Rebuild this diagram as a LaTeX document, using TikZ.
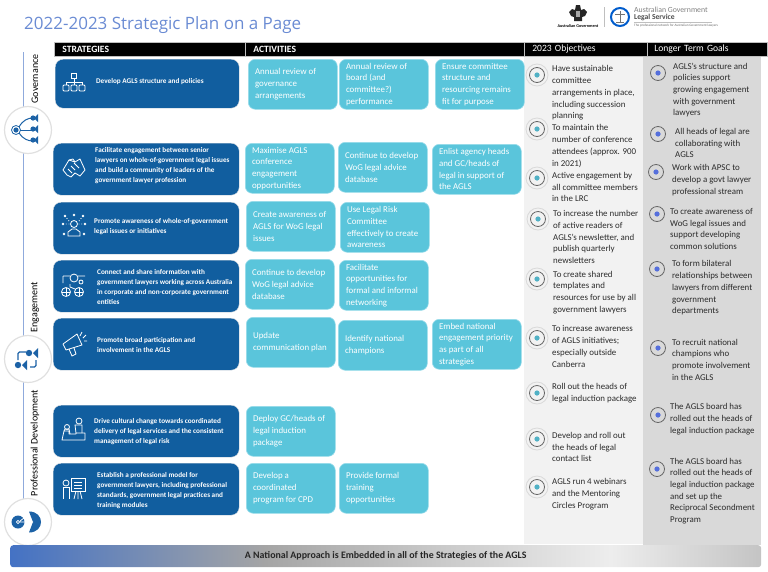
\documentclass[tikz,border=0pt]{standalone}
\usepackage{fontspec}
\setmainfont{Carlito}
\newfontfamily\titlefont{Open Sans}
\definecolor{stratblue}{HTML}{115E9F}
\definecolor{actblue}{HTML}{5AC5DB}
\definecolor{actedge}{HTML}{9ADCEA}
\definecolor{objpanel}{HTML}{F2F2F2}
\definecolor{goalpanel}{HTML}{D9D9D9}
\definecolor{titleblue}{HTML}{6A8BD3}
\definecolor{railblue}{HTML}{8FAADC}
\definecolor{iconblue}{HTML}{1C62A6}
\definecolor{bodygrey}{HTML}{2B2B2B}
\definecolor{barblue}{HTML}{4472C4}
\definecolor{bargrey}{HTML}{A5A5A5}
\definecolor{barlight}{HTML}{EDEDED}
\definecolor{barend}{HTML}{C4C4C4}
\pgfdeclarehorizontalshading{barshade}{100bp}{
	color(0bp)=(barblue); color(25bp)=(barblue); color(42bp)=(bargrey);
	color(65bp)=(barlight); color(75bp)=(barend); color(100bp)=(barend)}
\tikzset{
	headbar/.style={fill=black,draw=black!25,line width=.6pt,anchor=north west,
		minimum height=14pt,inner sep=0pt,text=white,font=\fontsize{9.6}{11}\selectfont},
	stratbox/.style={fill=stratblue,draw=black!10,line width=.4pt,rounded corners=8pt,
		anchor=north west},
	stratlabel/.style={anchor=west,align=left,inner sep=0pt,text=white,
		font=\fontsize{7.2}{10}\selectfont\bfseries},
	actbox/.style={fill=actblue,draw=actedge,line width=.6pt,rounded corners=7pt,
		anchor=north west,minimum width=89pt,minimum height=50pt,text width=75.5pt,
		inner xsep=6.75pt,inner ysep=0pt,align=flush left,text=white,
		font=\fontsize{8.9}{11.7}\selectfont},
	bodytext/.style={anchor=west,align=left,inner sep=0pt,text=bodygrey,
		font=\fontsize{8.9}{11.7}\selectfont},
	railcircle/.style={circle,fill=white,draw=black!12,line width=1.2pt,minimum size=47pt},
	sidelabel/.style={rotate=90,inner sep=0pt,font=\fontsize{10}{12}\selectfont},
	icon/.style={draw=white,line width=.8pt,fill=none}
}
\tikzset{
	bullet/.pic={
		\draw[black!15,line width=.8pt] (0,0) circle (11);
		\draw[black!60,line width=.8pt] (0,0) circle (7.5);
		\fill[#1] (0,0) circle (2.6);
	},
	orgchart/.pic={
		\draw[icon] (-2.5,-11) rectangle (2.5,-6);
		\draw[icon] (0,-6) -- (0,-2) (-8,1) -- (-8,-2) -- (8,-2) -- (8,1) (0,-2) -- (0,1);
		\foreach \x in {-8,0,8}
			\draw[icon,rounded corners=1pt] (\x-3,1) rectangle (\x+3,7);
	},
	handshake/.pic={
		\draw[icon,line join=round] (-11,2) -- (-5,-8) -- (-1,-9) -- (1,-6) -- (6,-9) -- (11,2) -- (6,8)
			-- (1,5) -- (-3,9) -- (-7,7) -- cycle;
		\draw[icon] (-6,1) -- (-2,5) (-3,-2) -- (1,2) (0,-5) -- (5,0) (-5,-8) -- (1,-6);
	},
	netperson/.pic={
		\draw[icon] (0,-3) circle (3.5);
		\draw[icon] (-6,9) -- (-6,5) -- (-2,2) -- (2,2) -- (6,5) -- (6,9) -- cycle;
		\foreach \a/\b in {-9/-11,0/-12,9/-11,-11/-3,11/-3,-10/7,10/7}
		{
			\fill[white] (\a,\b) circle (1.4);
		}
		\draw[icon,dotted] (-9,-11) -- (-5,-6) (9,-11) -- (5,-6) (-11,-3) -- (-4,-3) (11,-3) -- (4,-3);
	},
	linknet/.pic={
		\draw[icon] (0,-7) circle (4) (5,7) circle (4.5) (-8,7) circle (4.5) (7,-3) circle (2);
		\draw[icon] (-11,-9) -- (-4,-9) (11,-9) -- (4,-9) (-11,-9) -- (-11,-2) (-4,-1) -- (-4,2) -- (1,4);
		\draw[icon] (-8,3) -- (-8,11) (-12,7) -- (-4,7) (1,7) -- (9,7) (5,3) -- (5,11);
	},
	megaphone/.pic={
		\draw[icon,line join=round] (-11,1) -- (3,-9) -- (8,2) -- (-8,7) -- cycle;
		\draw[icon] (-5,6) -- (-2,13) -- (2,11) -- (0,5);
		\draw[icon] (8,-11) -- (6,-7) (12,-8) -- (9,-5) (13,-2) -- (10,-2);
	},
	stairs/.pic={
		\draw[icon,line join=round] (-12,10) -- (-10,1) -- (-5,1) -- (-5,4) -- (2,4) -- (2,3) -- (11,3) -- (11,10) -- cycle;
		\draw[icon] (-7,-3) circle (2.5) (5,-9) circle (3);
		\draw[icon] (-10,1) -- (-9,-1) -- (-5,-1) -- (-4,4) (2,3) -- (1,-5) -- (8,-5) -- (8,3);
	},
	teacher/.pic={
		\draw[icon] (-8,-5) circle (3);
		\draw[icon] (-11,11) -- (-11,-1) -- (-5,-1) -- (-5,11);
		\draw[icon] (-3,-10) rectangle (11,3);
		\draw[icon] (0,-6) -- (8,-6) (0,-3) -- (8,-3) (0,0) -- (8,0);
		\draw[icon] (2,3) -- (0,11) (4,3) -- (4,11) (6,3) -- (8,11);
	}
}

\begin{document}
\begin{tikzpicture}[x=1pt,y=-1pt]
\useasboundingbox (0,0) rectangle (768,571);

%title
\node[anchor=west,inner sep=0pt,text=titleblue,font=\titlefont\fontsize{17}{20}\selectfont]
	(title) at (24,25) {2022-2023 Strategic Plan on a Page};

%logos
\begin{scope}[shift={(578,14)}]
	\fill[black!85] (-9,-2) -- (-6,-5) -- (-3,-4) -- (-2,-9) -- (2,-9) -- (3,-4) -- (6,-5) -- (9,-2)
		-- (7,2) -- (4,3) -- (4,7) -- (-4,7) -- (-4,3) -- (-7,2) -- cycle;
	\fill[black!35] (-2,-3) rectangle (2,3);
\end{scope}
\node[inner sep=0pt,font=\fontsize{4.2}{5}\selectfont\bfseries] (govname) at (578,26) {Australian Government};
\coordinate (divtop) at (604,7);
\coordinate (divbot) at (604,27);
\draw[black!25,line width=.5pt] (divtop) -- (divbot);
\draw[blue!55!cyan!80!black,line width=2pt] (620,17) circle (9);
\draw[black!55,line width=.5pt] (620,11) -- (620,22) (615,14) -- (625,14) (616,22) -- (624,22);
\node[anchor=west,inner sep=0pt,text=black!50,font=\fontsize{7.8}{9}\selectfont] (agls1) at (634,10) {Australian Government};
\node[anchor=west,inner sep=0pt,text=black!70,font=\fontsize{7.6}{9}\selectfont\bfseries] (agls2) at (634,17.5) {Legal Service};
\draw[black!25,line width=.4pt] (634,22.5) -- (712,22.5);
\node[anchor=west,inner sep=0pt,text=black!60,font=\fontsize{3.4}{4}\selectfont] (agls3) at (634,25.5) {The professional network for Australian Government lawyers};

%panels
\fill[objpanel] (524,55) rectangle (643,544);
\fill[goalpanel] (643,55) rectangle (761,545);

%headers
\node[headbar,minimum width=188pt,text width=180pt,inner xsep=8pt,align=left] (strathead) at (54,42) {\bfseries STRATEGIES};
\node[headbar,minimum width=276pt,text width=268pt,inner xsep=8pt,align=left] (acthead) at (245,42) {\bfseries ACTIVITIES};
\node[headbar,minimum width=120pt,text width=112pt,inner xsep=8pt,align=left] (objhead) at (524,42) {2023 Objectives};
\node[headbar,minimum width=114pt,text width=106pt,inner xsep=7pt,align=left] (goalhead) at (647,42) {Longer Term Goals};

%left rail
\coordinate (railtop) at (23,52);
\coordinate (railbot) at (23,505);
\draw[railblue,line width=.8pt] (railtop) -- (railbot);
\node[railcircle] (govcircle) at (28,130) {};
\node[railcircle] (engcircle) at (28,359) {};
\node[railcircle] (devcircle) at (28,522) {};
\node[sidelabel] (govlabel) at (35,79) {Governance};
\node[sidelabel] (englabel) at (35,307) {Engagement};
\node[sidelabel] (devlabel) at (35,443) {Professional Development};

% governance icon
\begin{scope}[shift={(govcircle.center)},iconblue]
	\draw[line width=.8pt] (-12,0) circle (4.5);
	\fill (-12,0) circle (2.6);
	\draw[line width=1pt] (-9,-3) .. controls (-5,-10) and (0,-12) .. (5,-12);
	\draw[line width=1pt] (-8,0) -- (5,0);
	\draw[line width=1pt] (-9,3) .. controls (-5,9) and (0,11) .. (5,11);
	\foreach \b in {-12,-1,10}
	{
		\fill (5,\b) circle (2.6);
		\fill (6,\b) -- (10,\b-4) -- (10,\b+4) -- cycle;
	}
\end{scope}
% engagement icon
\begin{scope}[shift={(engcircle.center)},iconblue]
	\fill (1,-6) circle (3.2);
	\fill (5,-6) -- (10,-11) -- (10,-1) -- cycle;
	\fill (-10,6) circle (3.2);
	\fill (-6,6) -- (-1,1) -- (-1,11) -- cycle;
	\draw[line width=1.1pt,rounded corners=1.5pt] (-10,1) -- (-10,-7) -- (-2,-7);
	\draw[line width=1.1pt,rounded corners=1.5pt] (8,1) -- (8,8) -- (2,8);
\end{scope}
% development icon
\begin{scope}[shift={(devcircle.center)},iconblue]
	\fill (-10,0) circle (6.5);
	\fill (1,-10.5) .. controls (17,-10.5) and (17,10.5) .. (1,10.5) -- (5,0) -- cycle;
	\draw[white,line width=.8pt] (-10,0) circle (1.6) (-8.5,0) -- (5,0) (-8,-1) -- (-4,-4);
\end{scope}

%strategies
\foreach \n/\x/\y/\w/\h/\lx/\ly/\ic/\t in {
	1/55/59/184/49/96/81.5/orgchart/{Develop AGLS structure and policies},
	2/53/143/186/52/95/166/handshake/{Facilitate engagement between senior\\lawyers on whole-of-government legal issues\\and build a community of leaders of the\\government lawyer profession},
	3/53/202/186/52/94/227/netperson/{Promote awareness of whole-of-government\\legal issues or initiatives},
	4/53/260/186/52/97/287/linknet/{Connect and share information with\\government lawyers working across Australia\\in corporate and non-corporate government\\entities},
	5/53/318/186/52/97/345/megaphone/{Promote broad participation and\\involvement in the AGLS},
	6/53/405/186/52/94/432/stairs/{Drive cultural change towards coordinated\\delivery of legal services and the consistent\\management of legal risk},
	7/53/463/186/52/97/491/teacher/{Establish a professional model for\\government lawyers, including professional\\standards, government legal practices and\\training modules}}
{
	\node[stratbox,minimum width=\w pt,minimum height=\h pt] (strat\n) at (\x,\y) {};
	\node[stratlabel] (stratlabel\n) at (\lx,\ly) {\t};
	\pic at (74,\y+25) {\ic};
}

%activities
\foreach \n/\x/\y/\t in {
	a/248/59/{Annual review of\\governance\\arrangements},
	b/339/59/{Annual review of\\board (and\\committee?)\\performance},
	c/435/59/{Ensure committee\\structure and\\resourcing remains\\fit for purpose},
	d/245/143/{Maximise AGLS\\conference\\engagement\\opportunities},
	e/338/142/{Continue to develop\\WoG legal advice\\database},
	f/432/144/{Enlist agency heads\\and GC/heads of\\legal in support of\\the AGLS},
	g/246/201/{Create awareness of\\AGLS for WoG legal\\issues},
	h/340/202/{Use Legal Risk\\Committee\\effectively to create\\awareness},
	i/245/259/{Continue to develop\\WoG legal advice\\database},
	j/339/260/{Facilitate\\opportunities for\\formal and informal\\networking},
	k/246/317/{Update\\communication plan},
	l/338/320/{Identify national\\champions},
	m/432/319/{Embed national\\engagement priority\\as part of all\\strategies},
	n/246/406/{Deploy GC/heads of\\legal induction\\package},
	o/246/463/{Develop a\\coordinated\\program for CPD},
	p/339/463/{Provide formal\\training\\opportunities}}
{
	\node[actbox] (act\n) at (\x,\y) {\t};
}

%objectives
\foreach \n/\bx/\by/\tx/\ty/\t in {
	1/537/75/552/93/{Have sustainable\\committee\\arrangements in place,\\including succession\\planning},
	2/537/129/552/146/{To maintain the\\number of conference\\attendees (approx. 900\\in 2021)},
	3/537/178/552/187/{Active engagement by\\all committee members\\in the LRC},
	4/538/219/553/237/{To increase the number\\of active readers of\\AGLS's newsletter, and\\publish quarterly\\newsletters},
	5/537/279/553/292.5/{To create shared\\templates and\\resources for use by all\\government lawyers},
	6/537/338/552/346.5/{To increase awareness\\of AGLS initiatives;\\especially outside\\Canberra},
	7/537/393/552/393.5/{Roll out the heads of\\legal induction package},
	8/537/439/552/447/{Develop and roll out\\the heads of legal\\contact list},
	9/537/487/552/494/{AGLS run 4 webinars\\and the Mentoring\\Circles Program}}
{
	\pic at (\bx,\by) {bullet=actblue!90!black};
	\node[bodytext] (obj\n) at (\tx,\ty) {\t};
}

%goals
\foreach \n/\bx/\by/\tx/\ty/\t in {
	1/658/73/673/90/{AGLS's structure and\\policies support\\growing engagement\\with government\\lawyers},
	2/658/134/675/143/{All heads of legal are\\collaborating with\\AGLS},
	3/656/172/672/180/{Work with APSC to\\develop a govt lawyer\\professional stream},
	4/657/214/670/229/{To create awareness of\\WoG legal issues and\\support developing\\common solutions},
	5/657/269/672/288/{To form bilateral\\relationships between\\lawyers from different\\government\\departments},
	6/658/348/672/359.5/{To recruit national\\champions who\\promote involvement\\in the AGLS},
	7/658/415/670/419/{The AGLS board has\\rolled out the heads of\\legal induction package},
	8/657/469/670/491/{The AGLS board has\\rolled out the heads of\\legal induction package\\and set up the\\Reciprocal Secondment\\Program}}
{
	\pic at (\bx,\by) {bullet=titleblue!80!blue};
	\node[bodytext] (goal\n) at (\tx,\ty) {\t};
}

%bottom bar
\node[anchor=north west,shading=barshade,rounded corners=3pt,minimum width=751pt,minimum height=22pt,
	inner sep=0pt,text=black!85,font=\fontsize{9.9}{12}\selectfont\bfseries] (nationalbar) at (10,545)
	{A National Approach is Embedded in all of the Strategies of the AGLS};

\end{tikzpicture}
\end{document}
